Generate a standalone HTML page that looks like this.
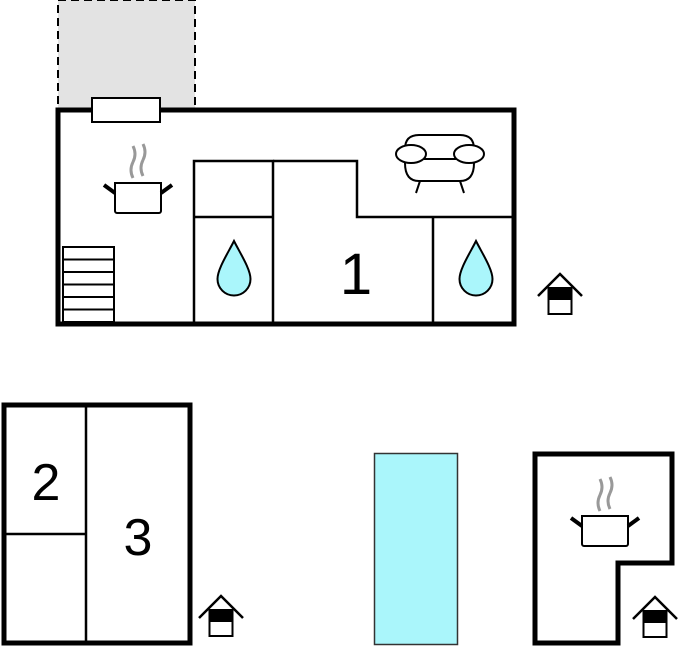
<!DOCTYPE html>
<html><head><style>body{margin:0;background:#fff}svg{display:block}</style></head>
<body>
<svg width="687" height="652" viewBox="0 0 687 652" xmlns="http://www.w3.org/2000/svg">
<defs>
<g id="pot">
<path d="M-5 -20 q-4 -8 0 -16 q4 -8 0 -16 M5 -22 q-4 -8 0 -16 q4 -8 0 -16" fill="none" stroke="#999" stroke-width="3"/>
<path d="M-23 -15 h46 v28 a2 2 0 0 1 -2 2 h-42 a2 2 0 0 1 -2 -2 z" fill="#fff" stroke="#000" stroke-width="2"/>
<path d="M-23 -5 l-11 -8 M23 -5 l11 -8" stroke="#000" stroke-width="4"/>
</g>
<g id="house">
<path d="M-22 22 L0 0 L22 22" fill="none" stroke="#000" stroke-width="2.5"/>
<rect x="-11.5" y="14" width="23" height="26" fill="#fff" stroke="#000" stroke-width="2"/>
<rect x="-11.5" y="14" width="23" height="12" fill="#000"/>
</g>
<path id="drop" d="M0 0 C-6 12 -16.5 28 -16.5 38 A16.5 16.5 0 0 0 16.5 38 C16.5 28 6 12 0 0 Z" fill="#aaf6fb" stroke="#000" stroke-width="2"/>
</defs>

<rect x="58" y="0" width="137" height="110" fill="#e3e3e3" stroke="#000" stroke-width="2" stroke-dasharray="8,5"/>
<rect x="58" y="110" width="456" height="214" fill="#fff" stroke="#000" stroke-width="5"/>
<rect x="92" y="98" width="68" height="24" fill="#fff" stroke="#000" stroke-width="2"/>

<g fill="none" stroke="#000" stroke-width="2.5">
<rect x="194" y="161" width="79" height="163"/>
<line x1="194" y1="217" x2="273" y2="217"/>
<path d="M273 161 H357 V217 H514"/>
<line x1="433" y1="217" x2="433" y2="324"/>
</g>
<g stroke="#000" stroke-width="2" fill="#fff">
<rect x="63" y="247" width="51" height="75"/>
<path d="M63 259.5H114M63 272H114M63 284.5H114M63 297H114M63 309.5H114"/>
</g>
<use href="#drop" x="234" y="241"/>
<use href="#drop" x="476" y="241"/>
<text x="356" y="294" font-family="Liberation Sans, sans-serif" font-size="58" text-anchor="middle">1</text>
<use href="#pot" x="138" y="198"/>
<g fill="#fff" stroke="#000" stroke-width="2">
<path d="M420 181 l-4 12 M460 181 l4 12"/>
<path d="M405 149 q0 -14 14 -14 h41 q14 0 14 14 v14 q0 18 -14 18 h-41 q-14 0 -14 -18 z"/>
<ellipse cx="411" cy="154" rx="15" ry="9"/>
<ellipse cx="469" cy="154" rx="15" ry="9"/>
<line x1="424" y1="159" x2="456" y2="159"/>
</g>
<use href="#house" x="560" y="274"/>

<rect x="4" y="405" width="186" height="238" fill="#fff" stroke="#000" stroke-width="5"/>
<g stroke="#000" stroke-width="2.5"><line x1="86" y1="405" x2="86" y2="643"/><line x1="4" y1="534" x2="86" y2="534"/></g>
<text x="46" y="500" font-family="Liberation Sans, sans-serif" font-size="52" text-anchor="middle">2</text>
<text x="138" y="555" font-family="Liberation Sans, sans-serif" font-size="52" text-anchor="middle">3</text>
<use href="#house" x="221" y="596"/>

<rect x="374.5" y="453.5" width="83" height="191" fill="#aaf6fb" stroke="#333" stroke-width="1.5"/>

<path d="M535 454 H672 V563 H618 V643 H535 Z" fill="#fff" stroke="#000" stroke-width="5"/>
<use href="#pot" x="605" y="531"/>
<use href="#house" x="655" y="597"/>
</svg>
</body></html>
